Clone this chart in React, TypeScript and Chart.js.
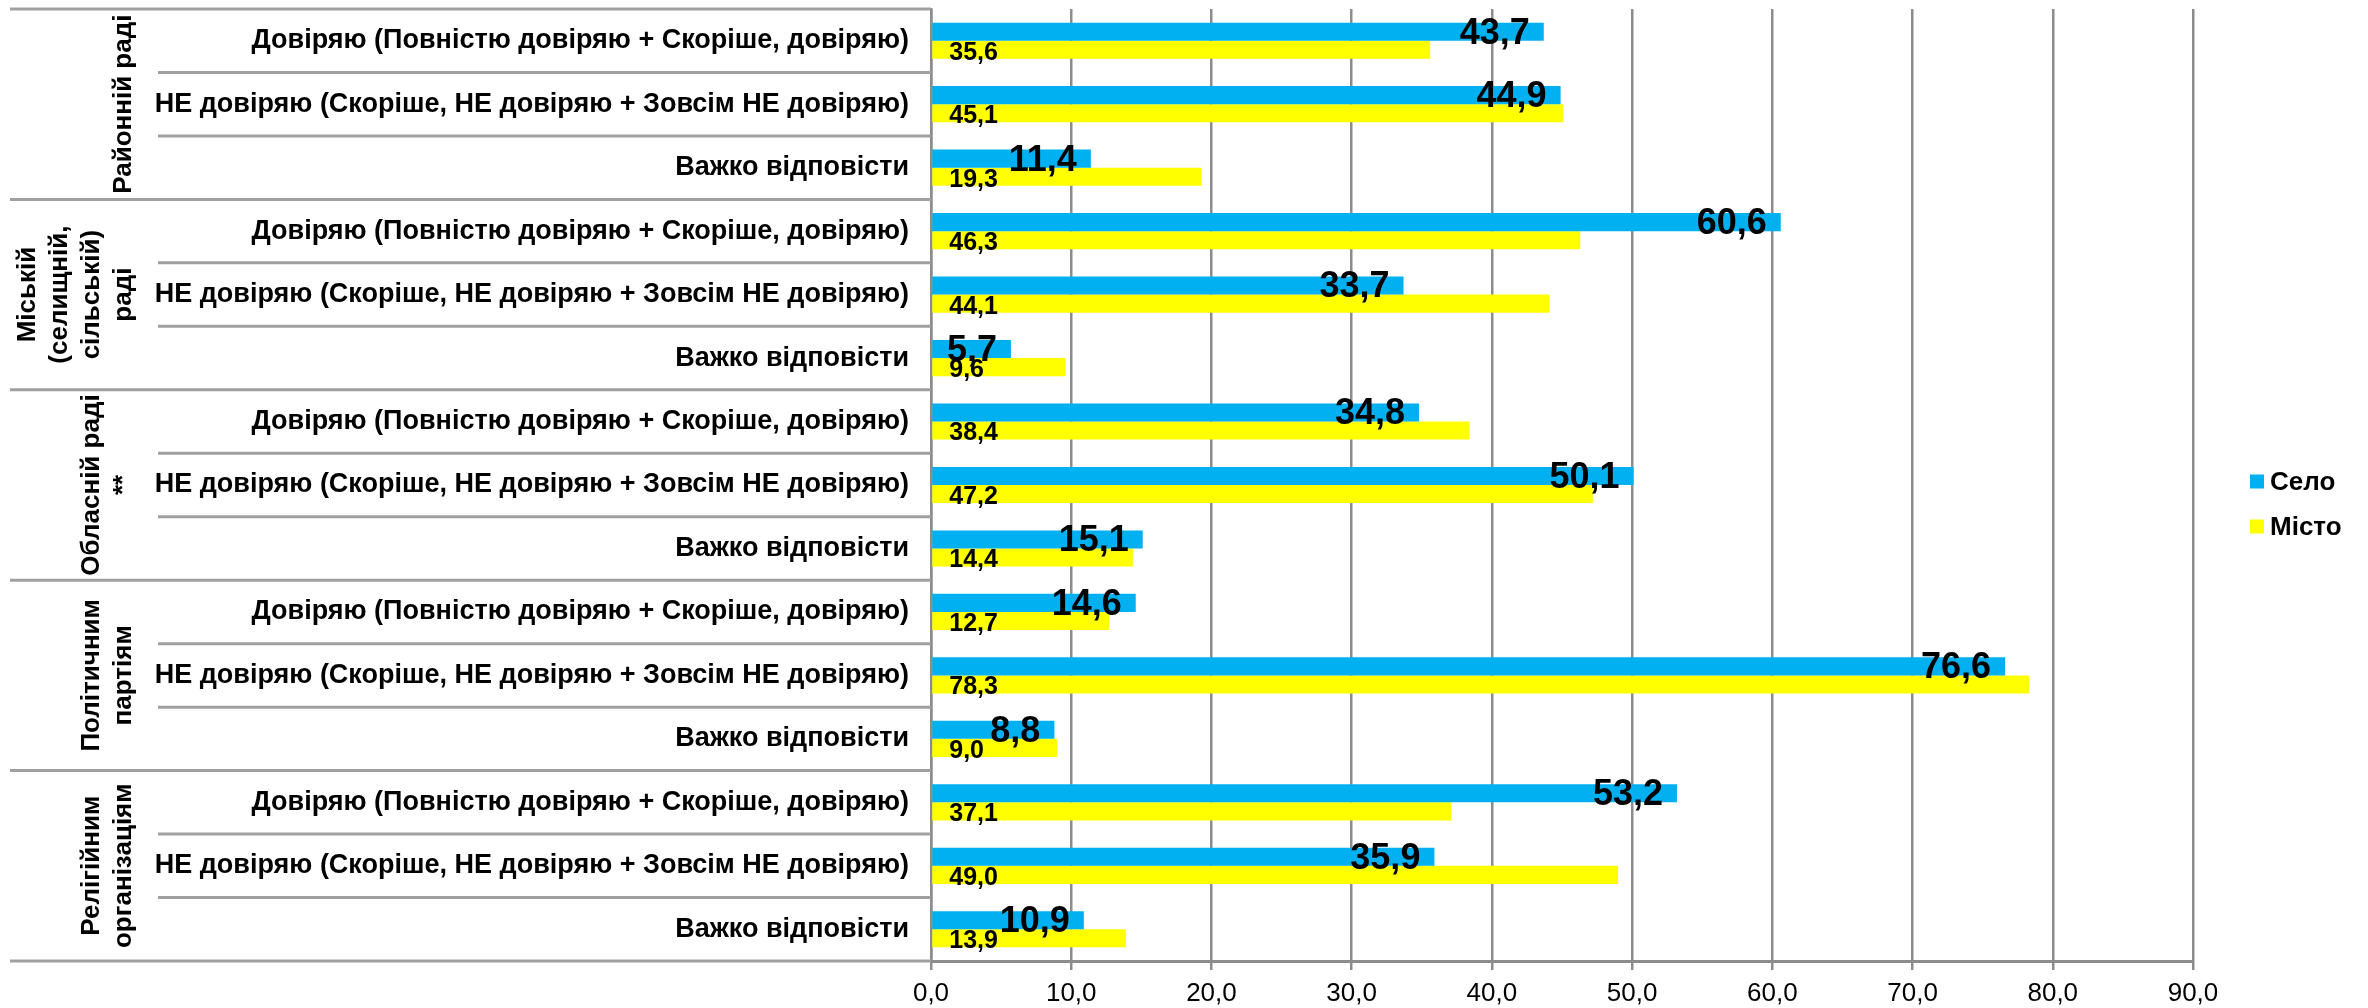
import React, { useEffect, useRef } from 'react';
import { Chart, registerables } from 'chart.js';

Chart.register(...registerables);

const FONT = '"Liberation Sans", Arial, Helvetica, sans-serif';

const groupLabels: string[][] = [
  ['Районній раді'],
  ['Міській', '(селищній,', 'сільській)', 'раді'],
  ['Обласній раді', '**'],
  ['Політичним', 'партіям'],
  ['Релігійним', 'організаціям'],
];

const answerOptions = [
  'Довіряю (Повністю довіряю + Скоріше, довіряю)',
  'НЕ довіряю (Скоріше, НЕ довіряю + Зовсім НЕ довіряю)',
  'Важко відповісти',
];

const categories: string[] = groupLabels.flatMap(() => answerOptions);

const seriesNames = ['Село', 'Місто'];
const seriesColors = ['#00B0F0', '#FFFF00'];

const seloValues = [43.7, 44.9, 11.4, 60.6, 33.7, 5.7, 34.8, 50.1, 15.1, 14.6, 76.6, 8.8, 53.2, 35.9, 10.9];
const mistoValues = [35.6, 45.1, 19.3, 46.3, 44.1, 9.6, 38.4, 47.2, 14.4, 12.7, 78.3, 9.0, 37.1, 49.0, 13.9];

const xMin = 0;
const xMax = 90;
const xStep = 10;

const fmt = (v: number) => Number(v).toFixed(1).replace('.', ',');

const decorPlugin = {
  id: 'decor',
  afterDraw(chart: any) {
    const { ctx, chartArea, scales } = chart;
    const y = scales.y;
    const n = categories.length;
    const step = y.getPixelForValue(1) - y.getPixelForValue(0);
    const per = answerOptions.length;
    ctx.save();
    ctx.strokeStyle = '#a0a0a0';
    ctx.lineWidth = 3;
    for (let i = 0; i <= n; i++) {
      const py = i === n ? chartArea.bottom : y.getPixelForValue(i) - step / 2;
      const isGroup = i % per === 0;
      const x0 = isGroup ? 10 : 158;
      ctx.beginPath();
      ctx.moveTo(x0, py);
      ctx.lineTo(chartArea.left, py);
      ctx.stroke();
    }
    ctx.fillStyle = '#000';
    ctx.font = `bold 26px ${FONT}`;
    ctx.textAlign = 'center';
    ctx.textBaseline = 'middle';
    groupLabels.forEach((lines, g) => {
      const top = y.getPixelForValue(g * per) - step / 2;
      const bottom = y.getPixelForValue(g * per + per - 1) + step / 2;
      const cy = (top + bottom) / 2;
      lines.forEach((line, i) => {
        const cx = 124 - (lines.length - 1 - i) * 32;
        ctx.save();
        ctx.translate(cx, cy);
        ctx.rotate(-Math.PI / 2);
        ctx.fillText(line, 0, 0);
        ctx.restore();
      });
    });
    const ds = chart.data.datasets;
    const legendX = chartArea.right + 57;
    const itemGap = 45;
    const cyMid = chart.height / 2;
    ctx.font = `bold 26px ${FONT}`;
    ctx.textAlign = 'left';
    ctx.textBaseline = 'middle';
    ds.forEach((d: any, i: number) => {
      const cyi = cyMid + (i - (ds.length - 1) / 2) * itemGap;
      ctx.fillStyle = d.backgroundColor;
      ctx.fillRect(legendX, cyi - 7, 14, 14);
      ctx.fillStyle = '#000';
      ctx.fillText(d.label, legendX + 20, cyi + 1);
    });
    ctx.restore();
  },
  afterDatasetsDraw(chart: any) {
    const { ctx } = chart;
    ctx.save();
    ctx.fillStyle = '#000';
    ctx.textBaseline = 'middle';
    chart.data.datasets.forEach((d: any, di: number) => {
      const meta = chart.getDatasetMeta(di);
      meta.data.forEach((bar: any, i: number) => {
        const txt = fmt(d.data[i]);
        if (di === 0) {
          ctx.font = `bold 36px ${FONT}`;
          ctx.textAlign = 'right';
          ctx.fillText(txt, bar.x - 14, bar.y + 2);
        } else {
          ctx.font = `bold 25px ${FONT}`;
          ctx.textAlign = 'left';
          ctx.fillText(txt, bar.base + 17, bar.y + 3);
        }
      });
    });
    ctx.restore();
  },
};

export default function App() {
  const ref = useRef<HTMLCanvasElement | null>(null);
  useEffect(() => {
    if (!ref.current) return;
    const chart = new Chart(ref.current, {
      type: 'bar',
      data: {
        labels: categories,
        datasets: [
          { label: seriesNames[0], data: seloValues, backgroundColor: seriesColors[0], borderWidth: 0 },
          { label: seriesNames[1], data: mistoValues, backgroundColor: seriesColors[1], borderWidth: 0 },
        ],
      },
      options: {
        indexAxis: 'y',
        responsive: true,
        maintainAspectRatio: false,
        animation: false,
        layout: { padding: { top: 9, right: 175, bottom: 0, left: 0 } },
        datasets: { bar: { categoryPercentage: 0.57, barPercentage: 1 } },
        plugins: {
          legend: { display: false },
          tooltip: { enabled: false },
        },
        scales: {
          x: {
            min: xMin,
            max: xMax,
            ticks: {
              stepSize: xStep,
              callback: (v: any) => fmt(v),
              font: { family: FONT, size: 26 },
              color: '#000',
              padding: 8,
            },
            grid: { color: '#8c8c8c', lineWidth: 2.5, tickLength: 9, drawTicks: true },
            border: { color: '#8c8c8c', width: 3 },
            afterFit: (s: any) => {
              s.height = 47;
            },
          },
          y: {
            ticks: {
              font: { family: FONT, size: 27, weight: 'bold' },
              color: '#000',
              padding: 22,
              autoSkip: false,
            },
            grid: { display: false, drawTicks: false },
            border: { display: true, color: '#8c8c8c', width: 2.5 },
            afterFit: (s: any) => {
              s.width = 931;
              s.paddingTop = 0;
              s.paddingBottom = 0;
            },
          },
        },
      } as any,
      plugins: [decorPlugin],
    });
    return () => chart.destroy();
  }, []);
  return (
    <div style={{ position: 'absolute', left: 0, top: 0, width: 2368, height: 1008, background: '#fff' }}>
      <canvas ref={ref} />
    </div>
  );
}
